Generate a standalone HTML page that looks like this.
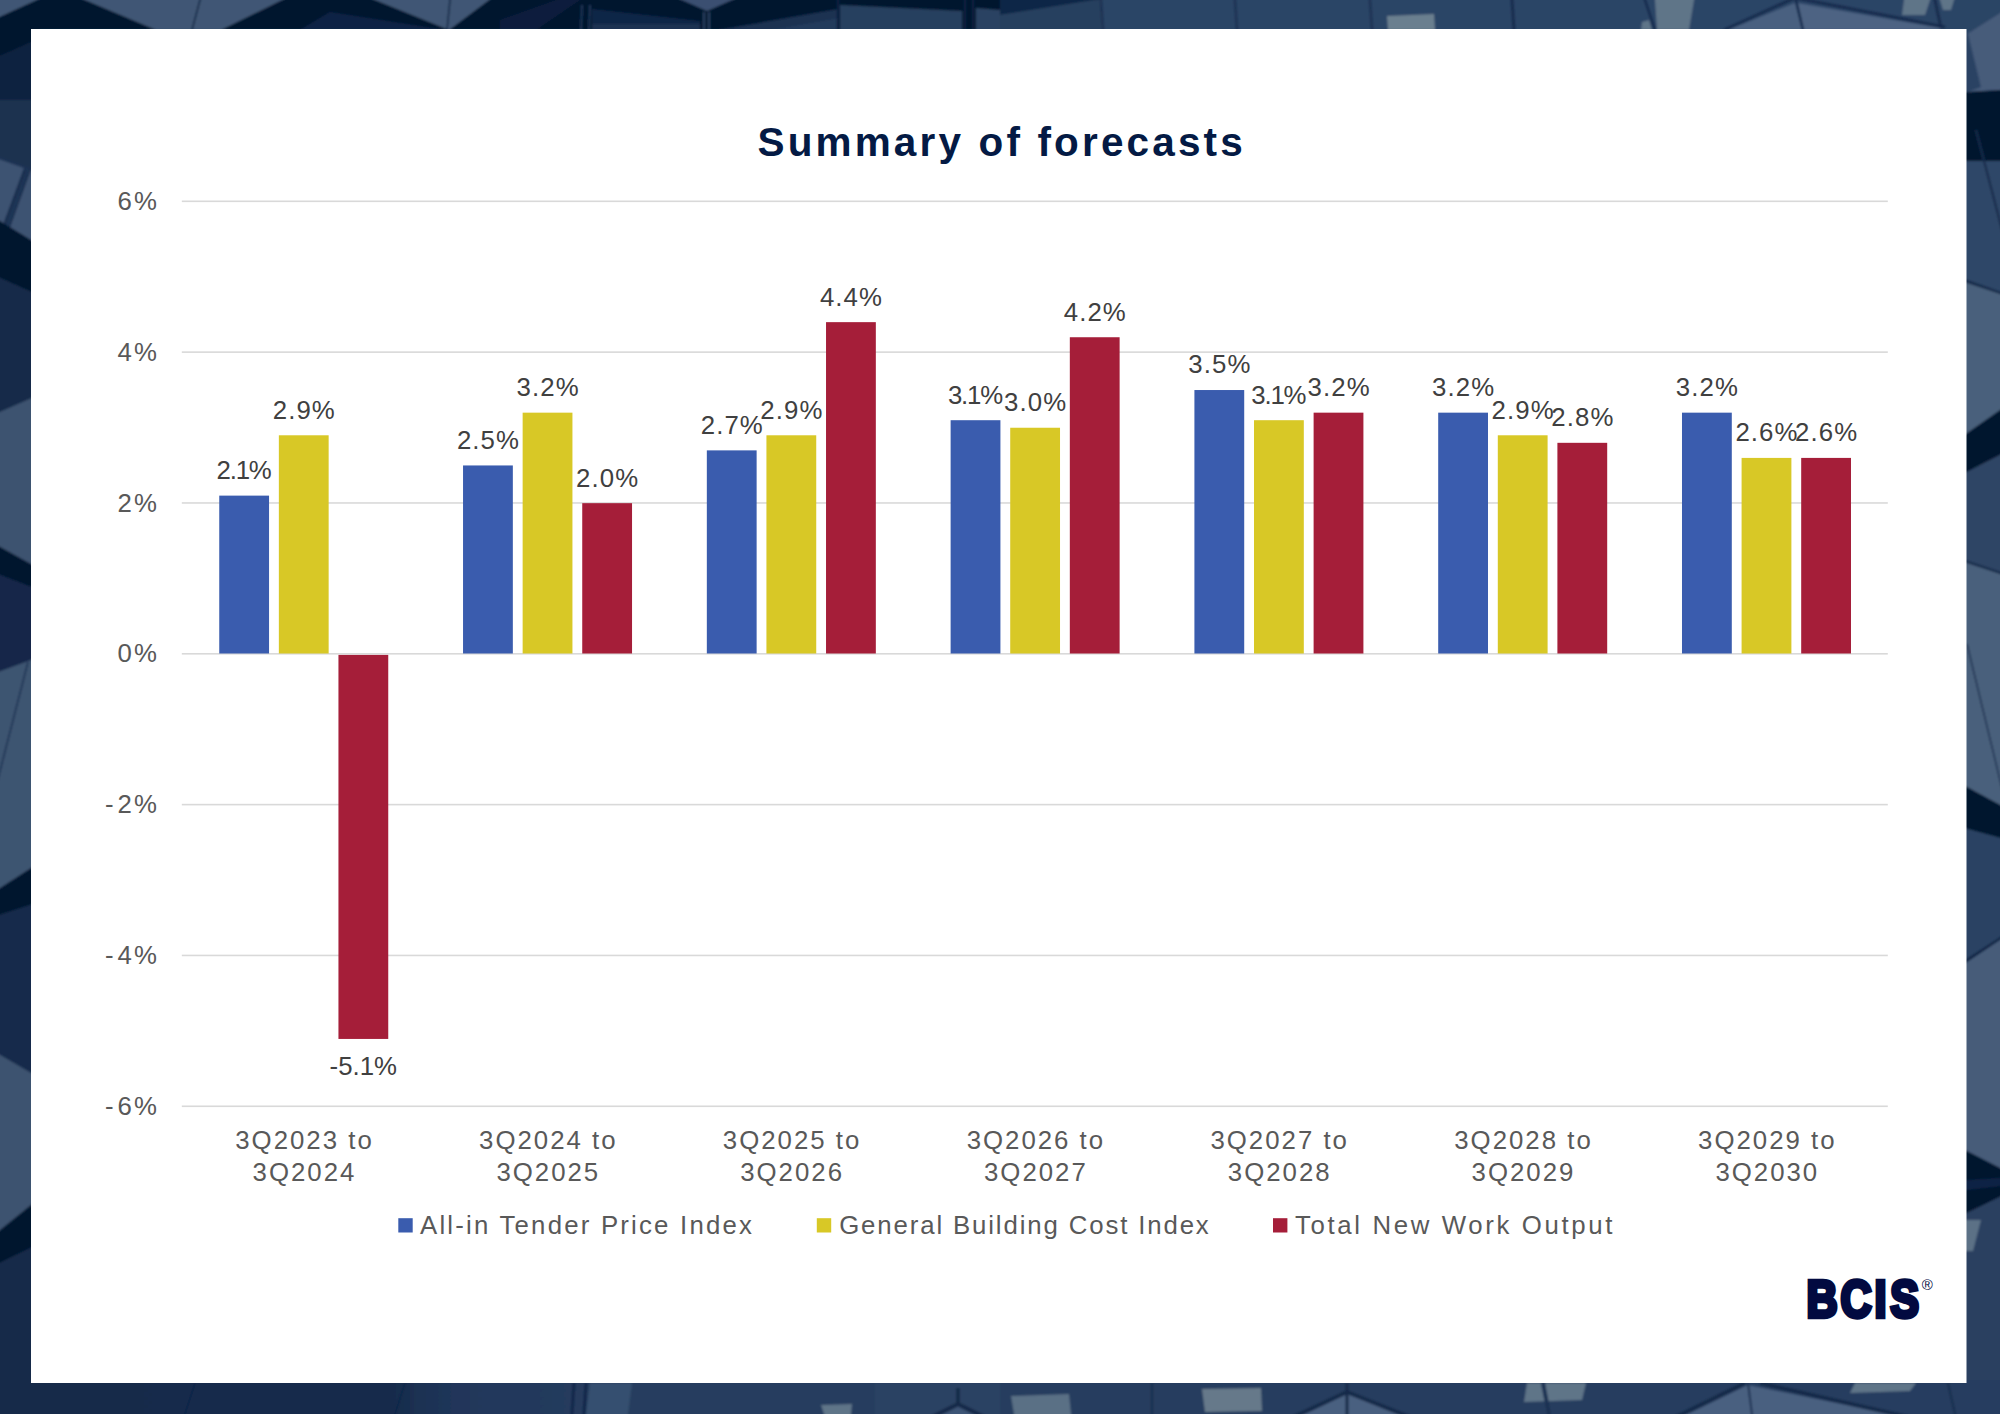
<!DOCTYPE html>
<html lang="en"><head><meta charset="utf-8"><title>Summary of forecasts</title>
<style>html,body{margin:0;padding:0;background:#1f3353;}body{width:2000px;height:1414px;overflow:hidden;}svg{display:block;}
text{font-family:"Liberation Sans",sans-serif;}
.ax{font-size:25.8px;fill:#595959;letter-spacing:2.2px;}
.dl{font-size:25.8px;fill:#404040;letter-spacing:1.1px;}
.cat{font-size:25.8px;fill:#595959;letter-spacing:2.0px;}
.lg{font-size:25.8px;fill:#595959;}
</style></head><body>
<svg width="2000" height="1414" viewBox="0 0 2000 1414">
<defs><filter id="soft" x="-1%" y="-1%" width="102%" height="102%"><feGaussianBlur stdDeviation="0.9"/></filter><linearGradient id="bgrad" x1="0" y1="0" x2="1" y2="0"><stop offset="0" stop-color="#14294a"/><stop offset="0.2" stop-color="#172c4c"/><stop offset="0.23" stop-color="#20365a"/><stop offset="0.3" stop-color="#263c5e"/><stop offset="1" stop-color="#273e60"/></linearGradient></defs>
<g filter="url(#soft)">
<rect x="-20" y="-20" width="2040" height="1454" fill="#2a4263"/>
<polygon points="-12.0,-12.0 1000.0,-12.0 1000,30 -12.0,30.0" fill="#03172f"/>
<polygon points="-12.0,-12.0 63.1,-12.0 -12.0,22.5" fill="#415775"/>
<polygon points="56.6,-12.0 306.4,-12.0 221,30 156,30" fill="#415775"/>
<line x1="203.2" y1="-12.0" x2="192" y2="30" stroke="#0d2344" stroke-width="1.5"/>
<polygon points="300,30 330,12 445,30" fill="#0d2344"/>
<polygon points="345.4,-12.0 505.0,-12.0 449,30" fill="#415775"/>
<line x1="451.2" y1="-12.0" x2="447" y2="30" stroke="#0d2344" stroke-width="1.5"/>
<polygon points="500,30 500,20 589.6,-12.0 597.6,-12.0 536,30" fill="#0a1e3c"/>
<polygon points="592,9 700,21 700,30 592,30" fill="#0f2546"/>
<polygon points="592,24 700,24 700,30 592,30" fill="#1a3051"/>
<line x1="582" y1="5" x2="581" y2="30" stroke="#1f3556" stroke-width="2"/>
<line x1="590" y1="5" x2="589" y2="30" stroke="#1f3556" stroke-width="2"/>
<polygon points="654.7,-12.0 759.3,-12.0 707,11" fill="#3a5071"/>
<line x1="704" y1="12" x2="704" y2="30" stroke="#2a4060" stroke-width="2"/>
<line x1="709" y1="12" x2="709" y2="30" stroke="#2a4060" stroke-width="2"/>
<polygon points="718,30 838,9 838,30" fill="#1a3051"/>
<polygon points="770,30 838,18 838,30" fill="#233a5b"/>
<polygon points="840,5 962,11 962,30 840,30" fill="#27405f"/>
<polygon points="976,8 1000,10 1000,30 976,30" fill="#2a4262"/>
<line x1="838.0" y1="-12.0" x2="838" y2="30" stroke="#0d2242" stroke-width="2.5"/>
<line x1="965.0" y1="-12.0" x2="965" y2="30" stroke="#0d2242" stroke-width="2"/>
<line x1="973.0" y1="-12.0" x2="973" y2="30" stroke="#0d2242" stroke-width="2"/>
<polygon points="1000.0,-12.0 2012.0,-12.0 2012.0,30.0 1000,30" fill="#2c4566"/>
<polygon points="1000.0,-12.0 1171.0,-12.0 1000,15" fill="#0f2546"/>
<polygon points="1000,15 1171.0,-12.0 1101.0,-12.0 1101,30 1000,30" fill="#27405f"/>
<line x1="1100.2" y1="-12.0" x2="1103" y2="30" stroke="#1a3153" stroke-width="2.5"/>
<line x1="1234.2" y1="-12.0" x2="1237" y2="30" stroke="#1a3153" stroke-width="2.5"/>
<line x1="1369.2" y1="-12.0" x2="1372" y2="30" stroke="#1a3153" stroke-width="2.5"/>
<polygon points="1387,16 1434,14 1435,30 1388,30" fill="#6b7f8f"/>
<line x1="1511.2" y1="-12.0" x2="1514" y2="30" stroke="#142b4d" stroke-width="3"/>
<polygon points="1654.2,-12.0 1696.0,-12.0 1689,30 1657,30" fill="#5f7488"/>
<polygon points="1642,22 1649,20 1652,30 1641,30" fill="#5f7488"/>
<line x1="1641.0" y1="-12.0" x2="1655" y2="30" stroke="#142b4d" stroke-width="2.5"/>
<polygon points="1728,30 1795,3 1802,30" fill="#4a6080"/>
<polygon points="1803,30 1797,3 1940,28 1940,30" fill="#4d6383"/>
<line x1="1816.4" y1="-12.0" x2="1724" y2="30" stroke="#142b4d" stroke-width="3"/>
<line x1="1793.2" y1="-12.0" x2="1803" y2="30" stroke="#142b4d" stroke-width="2.5"/>
<line x1="1744.2" y1="-12.0" x2="1945" y2="27" stroke="#142b4d" stroke-width="3"/>
<polygon points="1905.6,-12.0 1934.0,-12.0 1925,15 1902,15" fill="#5f7488"/>
<polygon points="1936.4,-12.0 1957.6,-12.0 1951,10 1943,10" fill="#5f7488"/>
<line x1="1932.4" y1="-12.0" x2="1941" y2="28" stroke="#142b4d" stroke-width="3"/>
<polygon points="1960.0,-12.0 2012.0,-12.0 2012.0,5.4 1960,38.5" fill="#2c4465"/>
<polygon points="1960,38.5 2012.0,5.4 2012.0,89.3 1960,92.4" fill="#465c7a"/>
<polygon points="1960,30 1968,34 1981,87 1960,95" fill="#2a4263"/>
<polygon points="1960,92.4 2012.0,89.3 2012.0,161.0 1960,161.0" fill="#03172f"/>
<line x1="1976" y1="130" x2="2012.0" y2="268.0" stroke="#1b3152" stroke-width="2"/>
<polygon points="1960,161.0 2012.0,161.0 2012.0,297.4 1960,278.5" fill="#2f4768"/>
<line x1="1976" y1="130" x2="2012.0" y2="268.0" stroke="#14294a" stroke-width="2"/>
<line x1="1960" y1="279" x2="2012.0" y2="297.2" stroke="#14294a" stroke-width="3"/>
<polygon points="1960,280.7 2012.0,298.0 2012.0,401.6 1960,437.9" fill="#4a607c"/>
<polygon points="1960,437.9 2012.0,401.6 2012.0,448.8 1960,475.6" fill="#03172f"/>
<polygon points="1960,475.6 2012.0,448.8 2012.0,577.0 1960,559.7" fill="#2f4565"/>
<line x1="1960" y1="560" x2="2012.0" y2="576.9" stroke="#14294a" stroke-width="3"/>
<polygon points="1960,560.7 2012.0,578.0 2012.0,811.5 1960,783.2" fill="#4a607c"/>
<line x1="1967" y1="644" x2="2012.0" y2="829.5" stroke="#1b3152" stroke-width="1.5"/>
<polygon points="1960,783.2 2012.0,811.5 2012.0,841.3 1960,827.1" fill="#03172f"/>
<polygon points="1960,827.1 2012.0,841.3 2012.0,931.0 1960,965.7" fill="#2c4363"/>
<line x1="1960" y1="965" x2="2012.0" y2="931.2" stroke="#0c2142" stroke-width="3"/>
<polygon points="1960,966.7 2012.0,932.0 2012.0,1174.2 1960,1147.4" fill="#465c79"/>
<polygon points="1960,1147.4 2012.0,1174.2 2012.0,1191.2 1960,1216.4" fill="#03172f"/>
<polygon points="1960,1180.4 2012.0,1177.3 2012.0,1184.6 1960,1190.8" fill="#0d2344"/>
<polygon points="1960,1216.4 2012.0,1191.2 2012.0,1426.0 1960.0,1426.0" fill="#2a4060"/>
<polygon points="1960,1220 1981,1220 1973,1251 1960,1251" fill="#5c7186"/>
<line x1="1975" y1="1383" x2="1984.7" y2="1426.0" stroke="#1b3152" stroke-width="2"/>
<polygon points="-12.0,22.5 63.1,-12.0 40.0,-12.0 40,40 -12.0,60.8" fill="#03172f"/>
<polygon points="-12.0,61.4 40,37.9 40,100.0 -12.0,100.0" fill="#10233f"/>
<polygon points="-12.0,100.0 40,100.0 40,171.2 -12.0,152.7" fill="#1b3050"/>
<polygon points="-12.0,152.7 40,171.2 40,245.5 -12.0,213.7" fill="#3d5372"/>
<line x1="-12.0" y1="153.8" x2="40" y2="172" stroke="#1b3152" stroke-width="3"/>
<line x1="27" y1="168" x2="6" y2="225" stroke="#1f3556" stroke-width="6"/>
<line x1="25" y1="170" x2="4" y2="226" stroke="#16294a" stroke-width="1.5"/>
<line x1="30" y1="170" x2="9" y2="228" stroke="#16294a" stroke-width="1.5"/>
<polygon points="-12.0,213.7 40,245.5 40,296.1 -12.0,272.6" fill="#03172f"/>
<polygon points="-12.0,272.6 40,296.1 40,394.6 -12.0,417.2" fill="#162a49"/>
<polygon points="-12.0,417.2 40,394.6 40,568.9 -12.0,540.4" fill="#3d5370"/>
<polygon points="-12.0,540.4 40,568.9 40,590.5 -12.0,570.4" fill="#03172f"/>
<polygon points="-12.0,570.4 40,590.5 40,656.7 -12.0,675.9" fill="#12284a"/>
<polygon points="-12.0,675.9 40,656.7 40,862.2 -12.0,895.7" fill="#3e5471"/>
<line x1="28" y1="662" x2="-12.0" y2="817.7" stroke="#1b3152" stroke-width="1.5"/>
<polygon points="-12.0,895.7 40,862.2 40,902.1 -12.0,918.9" fill="#03172f"/>
<polygon points="-12.0,918.9 40,902.1 40,1078.2 -12.0,1048.0" fill="#172c4c"/>
<polygon points="-12.0,1048.0 40,1078.2 40,1197.7 -12.0,1239.7" fill="#3d5370"/>
<polygon points="-12.0,1239.7 40,1197.7 40,1243.6 -12.0,1268.8" fill="#03172f"/>
<polygon points="-12.0,1268.8 40,1243.6 40.0,1426.0 -12.0,1426.0" fill="#16294a"/>
<rect x="-12" y="1380" width="2024" height="46" fill="url(#bgrad)"/>
<line x1="195" y1="1383" x2="181.1" y2="1426.0" stroke="#10254a" stroke-width="2"/>
<line x1="405" y1="1383" x2="391.1" y2="1426.0" stroke="#10254a" stroke-width="2"/>
<polygon points="590,1383 632,1383 626.5,1426.0 584.5,1426.0" fill="#34506f"/>
<line x1="574" y1="1383" x2="571.2" y2="1426.0" stroke="#10254a" stroke-width="3"/>
<line x1="586" y1="1383" x2="583.2" y2="1426.0" stroke="#10254a" stroke-width="3"/>
<polygon points="821,1405 852,1404 849.8,1426.0 828.0,1426.0" fill="#5f7488"/>
<polygon points="875,1383 1000,1383 1000.0,1426.0 875.0,1426.0" fill="#2b4263"/>
<line x1="958" y1="1388" x2="958" y2="1404" stroke="#14294a" stroke-width="4"/>
<line x1="958" y1="1404" x2="914.0" y2="1426.0" stroke="#14294a" stroke-width="4"/>
<line x1="958" y1="1404" x2="1002.0" y2="1426.0" stroke="#14294a" stroke-width="4"/>
<polygon points="920.0,1426.0 958,1407 996.0,1426.0" fill="#3e5576"/>
<polygon points="1011,1396 1069,1394 1072.2,1426.0 1016.0,1426.0" fill="#5a6f85"/>
<polygon points="1202,1389 1261,1388 1262,1411 1205,1412" fill="#66798a"/>
<line x1="1152" y1="1383" x2="1152.0" y2="1426.0" stroke="#1a3052" stroke-width="3"/>
<polygon points="1279.8,1426.0 1347,1394 1428.6,1426.0" fill="#4a6080"/>
<line x1="1347" y1="1383" x2="1347.0" y2="1426.0" stroke="#14294a" stroke-width="3"/>
<line x1="1347" y1="1392" x2="1274.4" y2="1426.0" stroke="#14294a" stroke-width="4"/>
<line x1="1347" y1="1392" x2="1432.0" y2="1426.0" stroke="#14294a" stroke-width="4"/>
<polygon points="1527,1383 1586,1383 1582,1400 1524,1402" fill="#5f7488"/>
<line x1="1543" y1="1383" x2="1551.3" y2="1426.0" stroke="#1a3052" stroke-width="4"/>
<polygon points="1663.2,1426.0 1748,1385 1948.8,1426.0" fill="#4a6080"/>
<line x1="1748" y1="1383" x2="1753.5" y2="1426.0" stroke="#1a3052" stroke-width="2"/>
<line x1="1745" y1="1383" x2="1657.6" y2="1426.0" stroke="#14294a" stroke-width="4"/>
<line x1="1760" y1="1383" x2="1947.3" y2="1426.0" stroke="#14294a" stroke-width="4"/>
<polygon points="1855,1383 1916,1383 1910,1391 1850,1393" fill="#5f7488"/>
<line x1="1948" y1="1383" x2="1957.7" y2="1426.0" stroke="#1a3052" stroke-width="3"/>
</g>
<rect x="31" y="29" width="1935.5" height="1354" fill="#ffffff"/>
<text x="1001.7" y="156.4" text-anchor="middle" style="font-size:40.5px;font-weight:bold;fill:#041a44;letter-spacing:3.15px;">Summary of forecasts</text>
<rect x="181.8" y="200.50" width="1706" height="1.6" fill="#d9d9d9"/>
<text class="ax" x="159.1" y="209.9" text-anchor="end">6%</text>
<rect x="181.8" y="351.33" width="1706" height="1.6" fill="#d9d9d9"/>
<text class="ax" x="159.1" y="360.7" text-anchor="end">4%</text>
<rect x="181.8" y="502.16" width="1706" height="1.6" fill="#d9d9d9"/>
<text class="ax" x="159.1" y="511.6" text-anchor="end">2%</text>
<rect x="181.8" y="652.99" width="1706" height="1.6" fill="#d9d9d9"/>
<text class="ax" x="159.1" y="662.4" text-anchor="end">0%</text>
<rect x="181.8" y="803.82" width="1706" height="1.6" fill="#d9d9d9"/>
<text class="ax" x="159.1" y="813.2" text-anchor="end"><tspan style="letter-spacing:3.8px">-</tspan>2%</text>
<rect x="181.8" y="954.65" width="1706" height="1.6" fill="#d9d9d9"/>
<text class="ax" x="159.1" y="964.1" text-anchor="end"><tspan style="letter-spacing:3.8px">-</tspan>4%</text>
<rect x="181.8" y="1105.48" width="1706" height="1.6" fill="#d9d9d9"/>
<text class="ax" x="159.1" y="1114.9" text-anchor="end"><tspan style="letter-spacing:3.8px">-</tspan>6%</text>
<rect x="219.25" y="495.62" width="49.8" height="157.88" fill="#3a5cae"/>
<text class="dl" x="243.6" y="479.0" text-anchor="middle" style="letter-spacing:-1.2px">2.1%</text>
<rect x="278.85" y="435.28" width="49.8" height="218.22" fill="#d8c826"/>
<text class="dl" x="304.3" y="418.7" text-anchor="middle">2.9%</text>
<rect x="338.45" y="654.90" width="49.8" height="384.04" fill="#a51e39"/>
<text class="dl" x="363.3" y="1074.6" text-anchor="middle" style="letter-spacing:0.0px">-5.1%</text>
<rect x="463.04" y="465.45" width="49.8" height="188.05" fill="#3a5cae"/>
<text class="dl" x="488.5" y="448.8" text-anchor="middle">2.5%</text>
<rect x="522.64" y="412.66" width="49.8" height="240.84" fill="#d8c826"/>
<text class="dl" x="548.1" y="396.1" text-anchor="middle">3.2%</text>
<rect x="582.24" y="503.16" width="49.8" height="150.34" fill="#a51e39"/>
<text class="dl" x="607.7" y="486.6" text-anchor="middle">2.0%</text>
<rect x="706.83" y="450.37" width="49.8" height="203.13" fill="#3a5cae"/>
<text class="dl" x="732.3" y="433.8" text-anchor="middle">2.7%</text>
<rect x="766.43" y="435.28" width="49.8" height="218.22" fill="#d8c826"/>
<text class="dl" x="791.9" y="418.7" text-anchor="middle">2.9%</text>
<rect x="826.03" y="322.15" width="49.8" height="331.35" fill="#a51e39"/>
<text class="dl" x="851.5" y="305.6" text-anchor="middle">4.4%</text>
<rect x="950.62" y="420.20" width="49.8" height="233.30" fill="#3a5cae"/>
<text class="dl" x="974.9" y="403.6" text-anchor="middle" style="letter-spacing:-1.2px">3.1%</text>
<rect x="1010.22" y="427.74" width="49.8" height="225.76" fill="#d8c826"/>
<text class="dl" x="1035.7" y="411.1" text-anchor="middle">3.0%</text>
<rect x="1069.82" y="337.24" width="49.8" height="316.26" fill="#a51e39"/>
<text class="dl" x="1095.3" y="320.6" text-anchor="middle">4.2%</text>
<rect x="1194.41" y="390.03" width="49.8" height="263.47" fill="#3a5cae"/>
<text class="dl" x="1219.9" y="373.4" text-anchor="middle">3.5%</text>
<rect x="1254.01" y="420.20" width="49.8" height="233.30" fill="#d8c826"/>
<text class="dl" x="1278.3" y="403.6" text-anchor="middle" style="letter-spacing:-1.2px">3.1%</text>
<rect x="1313.61" y="412.66" width="49.8" height="240.84" fill="#a51e39"/>
<text class="dl" x="1339.1" y="396.1" text-anchor="middle">3.2%</text>
<rect x="1438.20" y="412.66" width="49.8" height="240.84" fill="#3a5cae"/>
<text class="dl" x="1463.7" y="396.1" text-anchor="middle">3.2%</text>
<rect x="1497.80" y="435.28" width="49.8" height="218.22" fill="#d8c826"/>
<text class="dl" x="1523.2" y="418.7" text-anchor="middle">2.9%</text>
<rect x="1557.40" y="442.82" width="49.8" height="210.68" fill="#a51e39"/>
<text class="dl" x="1582.9" y="426.2" text-anchor="middle">2.8%</text>
<rect x="1681.99" y="412.66" width="49.8" height="240.84" fill="#3a5cae"/>
<text class="dl" x="1707.4" y="396.1" text-anchor="middle">3.2%</text>
<rect x="1741.59" y="457.91" width="49.8" height="195.59" fill="#d8c826"/>
<text class="dl" x="1767.0" y="441.3" text-anchor="middle">2.6%</text>
<rect x="1801.19" y="457.91" width="49.8" height="195.59" fill="#a51e39"/>
<text class="dl" x="1826.6" y="441.3" text-anchor="middle">2.6%</text>
<text class="cat" x="304.5" y="1148.8" text-anchor="middle">3Q2023 to</text>
<text class="cat" x="304.5" y="1181.3" text-anchor="middle">3Q2024</text>
<text class="cat" x="548.3" y="1148.8" text-anchor="middle">3Q2024 to</text>
<text class="cat" x="548.3" y="1181.3" text-anchor="middle">3Q2025</text>
<text class="cat" x="792.1" y="1148.8" text-anchor="middle">3Q2025 to</text>
<text class="cat" x="792.1" y="1181.3" text-anchor="middle">3Q2026</text>
<text class="cat" x="1035.9" y="1148.8" text-anchor="middle">3Q2026 to</text>
<text class="cat" x="1035.9" y="1181.3" text-anchor="middle">3Q2027</text>
<text class="cat" x="1279.7" y="1148.8" text-anchor="middle">3Q2027 to</text>
<text class="cat" x="1279.7" y="1181.3" text-anchor="middle">3Q2028</text>
<text class="cat" x="1523.5" y="1148.8" text-anchor="middle">3Q2028 to</text>
<text class="cat" x="1523.5" y="1181.3" text-anchor="middle">3Q2029</text>
<text class="cat" x="1767.3" y="1148.8" text-anchor="middle">3Q2029 to</text>
<text class="cat" x="1767.3" y="1181.3" text-anchor="middle">3Q2030</text>
<rect x="398.3" y="1218.2" width="14.4" height="14.3" fill="#3a5cae"/>
<text class="lg" x="420" y="1233.8" style="letter-spacing:2.2px">All-in Tender Price Index</text>
<rect x="816.8" y="1218.2" width="14.4" height="14.3" fill="#d8c826"/>
<text class="lg" x="839.2" y="1233.8" style="letter-spacing:1.86px">General Building Cost Index</text>
<rect x="1273" y="1218.2" width="14.4" height="14.3" fill="#a51e39"/>
<text class="lg" x="1295" y="1233.8" style="letter-spacing:2.63px">Total New Work Output</text>
<g transform="translate(1800,1317.4) scale(0.84,1)"><text x="7.86 48.33 88.81 107.38" y="0" style="font-size:51.3px;font-weight:bold;fill:#020a40;stroke:#020a40;stroke-width:4px;stroke-linejoin:miter;vector-effect:non-scaling-stroke;">BCIS</text></g>
<text x="1921.8" y="1290" style="font-size:15px;fill:#020a40;">®</text>
</svg></body></html>
